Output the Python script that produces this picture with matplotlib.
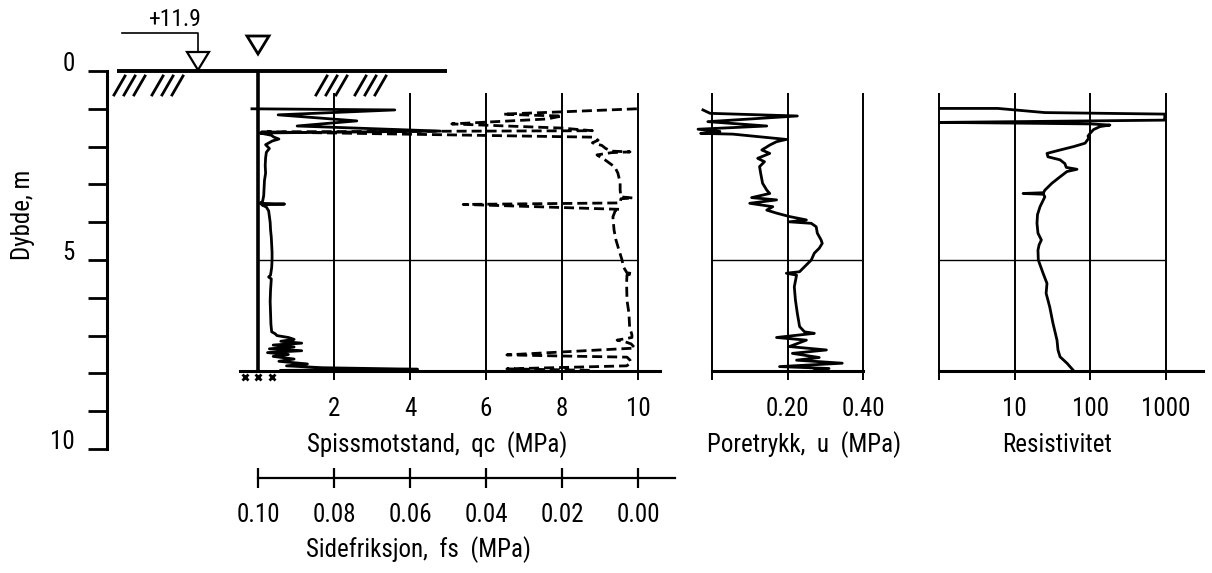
import matplotlib
matplotlib.use('Agg')
import matplotlib.pyplot as plt
from matplotlib import font_manager as fm
import numpy as np

# ---------------- font: prefer a narrow sans face if one is installed ----------------
def _pick_narrow():
    prefs = ['Liberation Sans Narrow', 'Roboto Condensed', 'Open Sans Condensed', 'Noto Sans',
             'DejaVu Sans', 'Open Sans', 'Roboto', 'Lato', 'Inter', 'Liberation Sans']
    narrow_st = ('condensed', 'semi-condensed', 'extra-condensed', 'ultra-condensed')
    found = []
    for f in fm.fontManager.ttflist:
        st = str(f.stretch).lower()
        is_narrow = ('narrow' in f.name.lower() or 'condensed' in f.name.lower()
                     or st in narrow_st)
        if not is_narrow or f.style != 'normal':
            continue
        w = f.weight
        try:
            w = int(w)
        except (TypeError, ValueError):
            w = 400 if str(w).lower() in ('normal', 'regular', 'book') else 700
        if w != 400:
            continue
        rank = prefs.index(f.name) if f.name in prefs else len(prefs)
        found.append((rank, f))
    if not found:
        return None
    found.sort(key=lambda t: t[0])
    return found[0][1]

_nf = _pick_narrow()
if _nf is not None:
    plt.rcParams['font.family'] = [_nf.name, 'DejaVu Sans']
    plt.rcParams['font.stretch'] = _nf.stretch
    FS = 18
else:
    plt.rcParams['font.family'] = ['DejaVu Sans']
    FS = 16

# ---------------- data ----------------
qc_depth = [1.00, 1.03, 1.16, 1.32, 1.455, 1.59, 1.64, 1.70, 1.75, 1.80, 1.85, 1.95, 2.05, 2.15,
            2.30, 2.50, 2.70, 2.90, 3.10, 3.30, 3.45, 3.50, 3.52, 3.54, 3.60, 3.70, 3.85, 4.00,
            4.20, 4.40, 4.60, 4.80, 5.00, 5.20, 5.40, 5.45, 5.50, 5.80, 6.10, 6.40, 6.70, 6.90,
            6.95, 7.00, 7.05, 7.10, 7.15, 7.20, 7.25, 7.30, 7.35, 7.40, 7.45, 7.50, 7.55, 7.62,
            7.68, 7.75, 7.80, 7.85, 7.89, 7.92]
qc_value = [-0.16, 3.6, 0.53, 2.6, 1.03, 4.8, 0.05, 0.35, 0.42, 0.55, 0.38, 0.20, 0.30, 0.22,
            0.20, 0.19, 0.20, 0.17, 0.16, 0.15, 0.12, 0.05, 0.70, 0.10, 0.22, 0.28, 0.30, 0.32,
            0.33, 0.35, 0.36, 0.37, 0.37, 0.36, 0.33, 0.28, 0.35, 0.33, 0.32, 0.33, 0.34, 0.36,
            0.45, 0.50, 0.80, 0.95, 0.60, 1.15, 0.40, 0.95, 0.30, 1.15, 0.25, 0.80, 0.40, 0.95,
            0.55, 1.30, 0.75, 1.70, 4.20, 0.60]

fs_depth = [1.00, 1.08, 1.14, 1.17, 1.19, 1.27, 1.40, 1.51, 1.58, 1.61, 1.75, 1.83, 1.90, 1.97,
            2.05, 2.12, 2.14, 2.16, 2.22, 2.35, 2.54, 2.70, 2.95, 3.15, 3.33, 3.36, 3.38, 3.49,
            3.53, 3.58, 3.66, 3.70, 3.86, 4.21, 4.47, 4.74, 5.00, 5.19, 5.34, 5.36, 5.40, 5.61,
            6.06, 6.40, 6.77, 6.98, 7.05, 7.12, 7.16, 7.22, 7.33, 7.51, 7.54, 7.57, 7.65, 7.72,
            7.80, 7.88, 7.92]
fs_value = [0.0003, 0.020, 0.0355, 0.028, 0.020, 0.024, 0.049, 0.020, 0.012, 0.099, 0.0121, 0.0105,
            0.0120, 0.0095, 0.0085, 0.0070, 0.0021, 0.0070, 0.0108, 0.0087, 0.0061, 0.0053, 0.0047,
            0.0047, 0.0045, 0.0013, 0.0045, 0.0047, 0.046, 0.030, 0.0047, 0.0060, 0.0066, 0.0063,
            0.0058, 0.0050, 0.0042, 0.0038, 0.0029, 0.0013, 0.0029, 0.0030, 0.0029, 0.0024, 0.0022,
            0.0016, 0.0016, 0.0055, 0.0035, 0.0018, 0.0008, 0.0345, 0.020, 0.0029, 0.0021, 0.0018,
            0.0030, 0.0345, 0.012]

u_depth = [1.03, 1.12, 1.19, 1.34, 1.455, 1.54, 1.60, 1.65, 1.67, 1.81, 1.87, 1.96, 2.09, 2.18,
           2.31, 2.40, 2.53, 2.71, 2.97, 3.15, 3.24, 3.35, 3.41, 3.50, 3.59, 3.68, 3.76, 3.85,
           3.94, 3.99, 4.03, 4.12, 4.29, 4.47, 4.56, 4.69, 4.82, 5.00, 5.18, 5.31, 5.35, 5.40,
           5.71, 6.06, 6.41, 6.76, 6.90, 6.94, 7.05, 7.12, 7.29, 7.38, 7.47, 7.58, 7.65, 7.73,
           7.82, 7.87, 7.93]
u_value = [-0.024, -0.005, 0.226, -0.011, 0.145, -0.037, 0.021, -0.030, 0.055, 0.197, 0.171, 0.153,
           0.132, 0.153, 0.121, 0.139, 0.126, 0.129, 0.134, 0.145, 0.153, 0.105, 0.171, 0.100,
           0.161, 0.145, 0.171, 0.205, 0.250, 0.205, 0.263, 0.276, 0.279, 0.289, 0.292, 0.284,
           0.271, 0.263, 0.245, 0.232, 0.197, 0.224, 0.218, 0.221, 0.226, 0.232, 0.245, 0.271,
           0.171, 0.250, 0.205, 0.303, 0.213, 0.284, 0.224, 0.345, 0.179, 0.310, 0.271]

res_depth = [0.99, 0.99, 1.10, 1.14, 1.22, 1.30, 1.36, 1.38, 1.40, 1.43, 1.47, 1.55, 1.65, 1.72,
             1.78, 1.91, 2.00, 2.09, 2.18, 2.27, 2.35, 2.45, 2.55, 2.60, 2.66, 2.80, 2.97, 3.15,
             3.22, 3.24, 3.26, 3.33, 3.59, 3.80, 4.03, 4.29, 4.47, 4.60, 4.74, 5.00, 5.35, 5.62,
             5.88, 6.24, 6.67, 7.12, 7.38, 7.56, 7.73, 7.91]
res_value = [1.05, 6.0, 25, 960, 960, 950, 1.05, 12, 100, 181, 134, 110, 99, 93, 95, 85, 60, 39.7,
             26.7, 27.5, 39.7, 46, 48, 66.5, 49, 39.7, 31, 25.1, 24, 12.9, 24, 25, 21.6, 20, 19.7,
             20.3, 22.5, 21, 20.3, 20.5, 23.7, 26.7, 26, 29, 32, 36.2, 37.3, 39.7, 49, 58.9]

depth_ticks = [0, 5, 10]
qc_ticks = [2, 4, 6, 8, 10]
qc_ticklabels = ['2', '4', '6', '8', '10']
fs_ticks = [0.10, 0.08, 0.06, 0.04, 0.02, 0.00]
u_ticks = [0.0, 0.2, 0.4]
u_ticklabels = ['', '0.20', '0.40']
res_ticks = [1, 10, 100, 1000]
res_ticklabels = ['', '10', '100', '1000']

label_depth = 'Dybde, m'
label_qc = 'Spissmotstand,  qc  (MPa)'
label_fs = 'Sidefriksjon,  fs  (MPa)'
label_u = 'Poretrykk,  u  (MPa)'
label_res = 'Resistivitet'
elev_text = '+11.9'

# ---------------- layout helpers ----------------
W, H = 1212, 573
fig = plt.figure(figsize=(W / 100, H / 100), dpi=100)
PT = 72 / 100.0  # points per pixel

def box(x0, y0, x1, y1):
    return [x0 / W, 1 - y1 / H, (x1 - x0) / W, (y1 - y0) / H]

Y0, YS = 71.0, 37.8   # pixel of depth 0, pixels per metre
def dpx(py):
    return (py - Y0) / YS

Y_TOP, Y_BOT = 93, 371
D_TOP, D_BOT = dpx(Y_TOP), dpx(Y_BOT)
D_TICK = dpx(380)
LWC = 2.0          # curve lw
LWG = 1.4          # grid lw

def style_panel(ax, ticks, labels, x_lo, x_hi):
    for s in ['left', 'right', 'top']:
        ax.spines[s].set_visible(False)
    ax.spines['bottom'].set_linewidth(2.2)
    ax.set_yticks([])
    ax.set_facecolor('none')
    ax.set_xticks(ticks)
    ax.set_xticklabels(labels)
    ax.tick_params(axis='x', which='major', length=0, pad=12 + 9 * PT, labelsize=FS)
    ax.tick_params(axis='x', which='minor', length=0)
    ax.set_ylim(D_BOT, D_TOP)
    ax.vlines([t for t in ticks if x_lo <= t <= x_hi], D_TICK, D_TOP, color='k', lw=LWG,
              clip_on=False)

# ---------------- background / schematic ----------------
ax_bg = fig.add_axes([0, 0, 1, 1])
ax_bg.set_xlim(0, W)
ax_bg.set_ylim(dpx(H), dpx(0))
ax_bg.axis('off')
ax_bg.plot([117, 447], [0, 0], color='k', lw=2.8, solid_capstyle='butt')
for xb in [114, 124, 134, 152, 162, 172, 316, 326, 336, 355, 365, 375]:
    ax_bg.plot([xb, xb + 11], [dpx(95), dpx(76)], color='k', lw=2.0)
ax_bg.plot([122, 198, 198], [dpx(33), dpx(33), dpx(52)], color='k', lw=1.2)
ax_bg.fill([187, 209, 198, 187], [dpx(52), dpx(52), dpx(70), dpx(52)], facecolor='white',
           edgecolor='k', lw=1.6)
ax_bg.text(175, dpx(19), elev_text, ha='center', va='center', fontsize=FS - 1)
ax_bg.fill([247, 269, 258, 247], [dpx(36), dpx(36), dpx(54), dpx(36)], facecolor='white',
           edgecolor='k', lw=2.0)

# ---------------- depth axis ----------------
ax_d = fig.add_axes(box(107, Y0, 108, Y0 + 10 * YS))
ax_d.set_facecolor('none')
for s in ['right', 'top', 'bottom']:
    ax_d.spines[s].set_visible(False)
ax_d.spines['left'].set_linewidth(2.2)
ax_d.set_ylim(10, 0)
ax_d.set_xticks([])
ax_d.set_yticks(depth_ticks)
ax_d.set_yticks(np.arange(0, 11), minor=True)
ax_d.tick_params(axis='y', which='both', direction='out', length=19 * PT, width=2.0)
ax_d.tick_params(axis='y', which='major', labelsize=FS, pad=13 * PT)
for lbl in ax_d.get_yticklabels():
    lbl.set_va('baseline')
fig.text(23 / W, 1 - 215 / H, label_depth, rotation=90, ha='center', va='center', fontsize=FS)

# ---------------- CPT panel (qc + fs) ----------------
QX0 = 258.0
QS = 38.0  # px per MPa
ax_q = fig.add_axes(box(240, Y_TOP, 660, Y_BOT))
ax_q.set_xlim((240 - QX0) / QS, (660 - QX0) / QS)
style_panel(ax_q, qc_ticks, qc_ticklabels, 0, 10)
ax_q.hlines(5, 0, 10, color='k', lw=1.0)
ax_q.plot([0, 0], [0, D_BOT], color='k', lw=2.6, clip_on=False, solid_capstyle='butt')
ax_q.plot(qc_value, qc_depth, color='k', lw=LWC, clip_on=False)
ax_q.plot([-0.35, 0.0, 0.37], [dpx(377)] * 3, ls='none', marker='x', ms=5, mew=2,
          color='k', clip_on=False)

ax_f = ax_q.twiny()
ax_f.set_xlim(0.10 + (QX0 - 240) / (QS * 100), 0.10 - (660 - QX0) / (QS * 100))
ax_f.set_ylim(D_BOT, D_TOP)
ax_f.axis('off')
ax_f.plot(fs_value, fs_depth, color='k', lw=LWC, ls=(0, (3.6, 1.8)), clip_on=False)

fig.text(437 / W, 1 - 445 / H, label_qc, ha='center', va='center', fontsize=FS)

# separate fs scale
ax_fs = fig.add_axes(box(258, 476, 675, 478))
ax_fs.set_facecolor('none')
for s in ['left', 'right', 'top']:
    ax_fs.spines[s].set_visible(False)
ax_fs.spines['bottom'].set_linewidth(1.6)
ax_fs.set_yticks([])
ax_fs.set_xlim(0.10, 0.10 - (675 - 258) / (QS * 100))
ax_fs.set_xticks(fs_ticks)
ax_fs.set_xticklabels(['%.2f' % t for t in fs_ticks])
ax_fs.tick_params(axis='x', direction='inout', length=20 * PT, width=1.6, pad=11, labelsize=FS)
fig.text(419 / W, 1 - 550 / H, label_fs, ha='center', va='center', fontsize=FS)

# ---------------- pore pressure panel ----------------
ax_u = fig.add_axes(box(712, Y_TOP, 863, Y_BOT))
ax_u.set_xlim(0, 0.4)
style_panel(ax_u, u_ticks, u_ticklabels, 0, 0.4)
ax_u.hlines(5, 0, 0.4, color='k', lw=1.0)
ax_u.plot(u_value, u_depth, color='k', lw=LWC, clip_on=False)
fig.text(804 / W, 1 - 445 / H, label_u, ha='center', va='center', fontsize=FS)

# ---------------- resistivity panel ----------------
ax_r = fig.add_axes(box(939, Y_TOP, 1203, Y_BOT))
ax_r.set_xscale('log')
ax_r.set_xlim(1, 10 ** ((1203 - 939) / 75.7))
style_panel(ax_r, res_ticks, res_ticklabels, 1, 1000)
ax_r.minorticks_off()
ax_r.hlines(5, 1, 1000, color='k', lw=1.0)
ax_r.plot(res_value, res_depth, color='k', lw=LWC, clip_on=False)
fig.text(1057 / W, 1 - 445 / H, label_res, ha='center', va='center', fontsize=FS)

fig.savefig('out.png', dpi=100)
